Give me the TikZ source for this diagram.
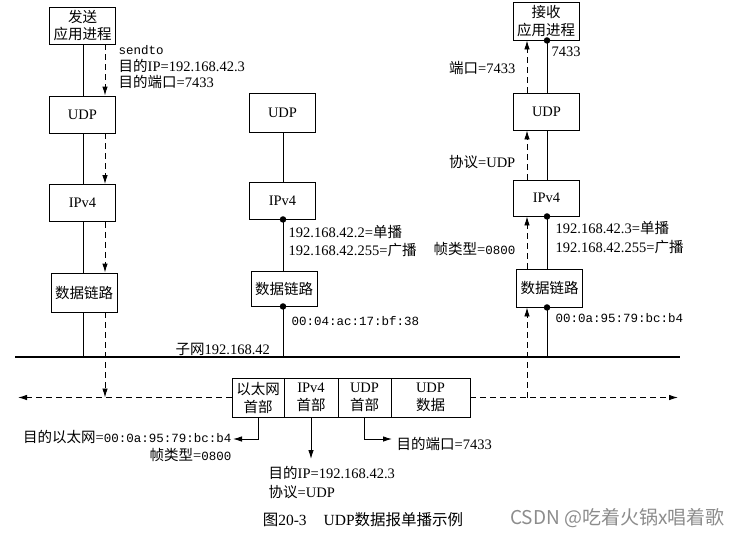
\documentclass[tikz,border=0pt]{standalone}
\usepackage{fontspec}
\setmainfont{Liberation Serif}
\setmonofont{Liberation Mono}
\newfontfamily\cjk{Noto Sans CJK SC}
\newcommand{\zh}[1]{{\cjk #1}}
\usetikzlibrary{arrows.meta,calc}
\begin{document}
\begin{tikzpicture}[x=1pt,y=-1pt,
  box/.style={draw, line width=0.9pt, minimum width=66pt, minimum height=37pt, inner sep=0pt, align=center, font=\fontsize{14.5}{17.5}\selectfont},
  cell/.style={draw, line width=0.9pt, minimum height=39pt, inner sep=0pt, align=center, font=\fontsize{14.5}{18}\selectfont},
  lbl/.style={inner sep=0.5pt, font=\fontsize{14.5}{16}\selectfont},
  mono/.style={inner sep=0.5pt, font=\fontsize{12.5}{15}\selectfont\ttfamily},
  ln/.style={line width=0.9pt},
  dsh/.style={line width=0.9pt, dash pattern=on 6pt off 4pt},
  arr/.style={-{Latex[length=9pt,width=5.5pt]}},
  dot/.style={circle, fill, inner sep=0pt, minimum size=6.5pt}]
\useasboundingbox (0,0) rectangle (744,536);
% reference coordinates
\coordinate (sL) at (83,0);
\coordinate (dL) at (105,0);
\coordinate (sM) at (283,0);
\coordinate (sR) at (547,0);
\coordinate (dR) at (527,0);
\coordinate (busL) at (15,357);
\coordinate (busR) at (680,357);
\coordinate (hL) at (18,0);
\coordinate (hR) at (678,0);
% left host
\node[box] (sapp) at (82.5,25.5) {\zh{发送}\\\zh{应用进程}};
\node[box] (sudp) at (82.5,114.5) {UDP};
\node[box] (sip) at (82.5,203) {IPv4};
\node[box, minimum height=39pt] (sdl) at (84,292.5) {\zh{数据链路}};
% middle host
\node[box, minimum height=39pt] (mudp) at (282.5,112.5) {UDP};
\node[box] (mip) at (282.5,200.5) {IPv4};
\node[box, minimum height=35pt] (mdl) at (284,288.5) {\zh{数据链路}};
% right host
\node[box, minimum height=38pt] (rapp) at (546,21) {\zh{接收}\\\zh{应用进程}};
\node[box] (rudp) at (546.5,111.5) {UDP};
\node[box, minimum height=36pt] (rip) at (546.5,198) {IPv4};
\node[box, minimum height=38pt] (rdl) at (549.5,288) {\zh{数据链路}};
% bus
\draw[line width=2.6pt] (busL) -- (busR);
\node[lbl, anchor=west] (subnet) at (175,349) {\zh{子网}192.168.42};
% frame
\node[cell, minimum width=52pt] (c1) at (258,397.5) {\zh{以太网}\\\zh{首部}};
\node[cell, minimum width=54pt] (c2) at (311,397.5) {IPv4\\\zh{首部}};
\node[cell, minimum width=53pt] (c3) at (364.5,397.5) {UDP\\\zh{首部}};
\node[cell, minimum width=79pt] (c4) at (430.5,397.5) {UDP\\\zh{数据}};
% left solid and dashed
\draw[ln] (sapp.south -| sL) -- (sudp.north -| sL);
\draw[ln] (sudp.south -| sL) -- (sip.north -| sL);
\draw[ln] (sip.south -| sL) -- (sdl.north -| sL);
\draw[ln] (sdl.south -| sL) -- (busL -| sL);
\draw[dsh,arr] (sapp.south -| dL) -- (sudp.north -| dL);
\draw[dsh,arr] (sudp.south -| dL) -- (sip.north -| dL);
\draw[dsh,arr] (sip.south -| dL) -- (sdl.north -| dL);
\draw[dsh,arr] (sdl.south -| dL) -- (c1.west -| dL);
% middle solid
\draw[ln] (mudp.south -| sM) -- (mip.north -| sM);
\draw[ln] (mip.south -| sM) -- (mdl.north -| sM);
\draw[ln] (mdl.south -| sM) -- (busL -| sM);
\node[dot] (md1) at (mip.south -| sM) {};
\node[dot] (md2) at (mdl.south -| sM) {};
% right solid and dashed
\draw[ln] (rapp.south -| sR) -- (rudp.north -| sR);
\draw[ln] (rudp.south -| sR) -- (rip.north -| sR);
\draw[ln] (rip.south -| sR) -- (rdl.north -| sR);
\draw[ln] (rdl.south -| sR) -- (busL -| sR);
\node[dot] (rd0) at (rapp.south -| sR) {};
\node[dot] (rd1) at (rip.south -| sR) {};
\node[dot] (rd2) at (rdl.south -| sR) {};
\draw[dsh,arr] (c4.east -| dR) -- (rdl.south -| dR);
\draw[dsh,arr] (rdl.north -| dR) -- (rip.south -| dR);
\draw[dsh,arr] (rip.north -| dR) -- (rudp.south -| dR);
\draw[dsh,arr] (rudp.north -| dR) -- (rapp.south -| dR);
% horizontal dashed
\draw[dsh,arr] (c1.west) -- (c1.west -| hL);
\draw[dsh,arr] (c4.east) -- (c4.east -| hR);
% left labels
\node[mono, anchor=west] (lsend) at (118,50) {sendto};
\node[lbl, anchor=west] (lip) at (118,66) {\zh{目的}IP=192.168.42.3};
\node[lbl, anchor=west] (lport) at (118,82) {\zh{目的端口}=7433};
% middle labels
\node[lbl, anchor=west] (mu) at (288,232) {192.168.42.2=\zh{单播}};
\node[lbl, anchor=west] (mb) at (288,250) {192.168.42.255=\zh{广播}};
\node[mono, anchor=west] (mmac) at (291,321) {00:04:ac:17:bf:38};
% right labels
\node[lbl, anchor=west] (rport) at (551,52) {7433};
\node[lbl, anchor=west] (ru) at (555,228) {192.168.42.3=\zh{单播}};
\node[lbl, anchor=west] (rb) at (555,247) {192.168.42.255=\zh{广播}};
\node[mono, anchor=west] (rmac) at (555,318) {00:0a:95:79:bc:b4};
\node[lbl, anchor=east] (rp) at (516,68) {\zh{端口}=7433};
\node[lbl, anchor=east] (rproto) at (516,162) {\zh{协议}=UDP};
\node[lbl, anchor=east] (rtype) at (516,249) {\zh{帧类型}=\texttt{\fontsize{12.5}{15}\selectfont 0800}};
% bottom labels
\coordinate (a1) at (233,439);
\coordinate (a2) at (311,459);
\coordinate (a3) at (392,439);
\node[lbl, anchor=east] (t1) at (232,437) {\zh{目的以太网}=\texttt{\fontsize{12.5}{15}\selectfont 00:0a:95:79:bc:b4}};
\node[lbl, anchor=east] (t1b) at (232,455) {\zh{帧类型}=\texttt{\fontsize{12.5}{15}\selectfont 0800}};
\node[lbl, anchor=west] (t2) at (268,473) {\zh{目的}IP=192.168.42.3};
\node[lbl, anchor=west] (t2b) at (268,492) {\zh{协议}=UDP};
\node[lbl, anchor=west] (t3) at (396,444) {\zh{目的端口}=7433};
\draw[ln,arr] (c1.south) |- (a1);
\draw[ln,arr] (c2.south) -- (a2);
\draw[ln,arr] (c3.south) |- (a3);
% caption and watermark
\node[inner sep=0pt, font=\fontsize{15.5}{18}\selectfont] (cap) at (363,520) {\zh{图}20-3\hspace{1.1em}UDP\zh{数据报单播示例}};
\node[inner sep=0pt, anchor=west, text=black!45, font=\cjk\fontsize{19}{22}\selectfont] (wm) at (510,518) {CSDN @吃着火锅x唱着歌};
\end{tikzpicture}
\end{document}
